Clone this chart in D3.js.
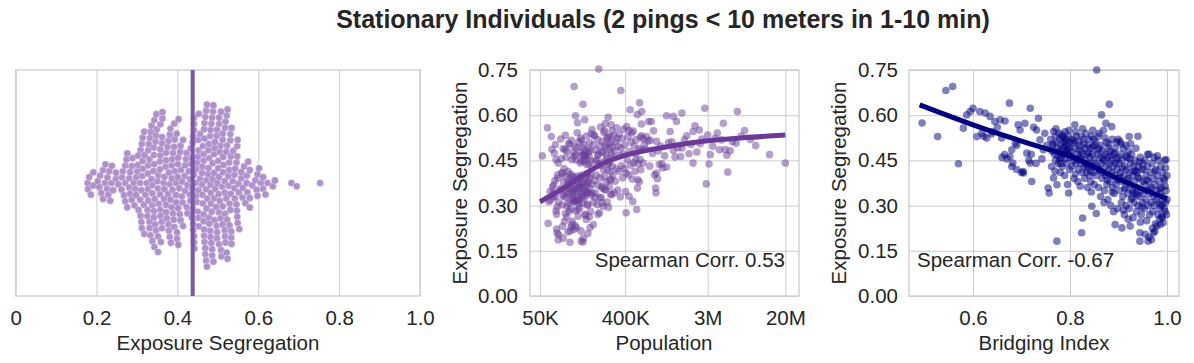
<!DOCTYPE html>
<html>
<head>
<meta charset="utf-8">
<script src="https://cdn.jsdelivr.net/npm/d3@7"></script>
<style>
  body { margin: 0; background: #fff; }
  text { font-family: "Liberation Sans", Arial, Helvetica, sans-serif; fill: #262626; }
</style>
</head>
<body>
<div id="chart"></div>
<script>
// population (thousands) vs exposure segregation, one entry per city
const popSeg = [
  [53,.465],[60,.558],[61,.241],[62,.313],[66,.529],[67,.487],[68,.362],[70,.328],[72,.383],[72,.331],[74,.452],[74,.283],[75,.271],[76,.209],[79,.203],[78,.186],[65,.318],[69,.342],[71,.474],[73,.503],[77,.391],[77,.402],[64,.347],[79,.312],[76,.296],[78,.441],[70,.368],[75,.222],
  [82,.352],[83,.521],[84,.357],[85,.409],[86,.336],[86,.302],[87,.231],[88,.192],[88,.489],[89,.378],[90,.331],[91,.248],[92,.397],[93,.274],[93,.533],[94,.327],[95,.351],[96,.262],[96,.481],[97,.298],[98,.372],[99,.212],[100,.358],[100,.308],[101,.386],[102,.281],[103,.503],[104,.178],[104,.339],[105,.405],[106,.318],[106,.289],[107,.229],[108,.361],[108,.517],[109,.452],[110,.399],[110,.248],[111,.381],[112,.477],[112,.326],[113,.344],[114,.315],[114,.221],[115,.695],[115,.463],[116,.366],[116,.314],[117,.496],[117,.311],[118,.234],[118,.348],[119,.469],[119,.598],[120,.392],[120,.283],[84,.456],[90,.423],[95,.461],[99,.414],[103,.376],[107,.394],[111,.338],[113,.353],[97,.343],[92,.486],[87,.407],[101,.507],[109,.238],[105,.216],
  [121,.451],[122,.226],[122,.319],[123,.493],[124,.357],[124,.542],[125,.398],[126,.287],[126,.321],[127,.265],[127,.372],[128,.381],[129,.328],[129,.512],[130,.346],[131,.363],[131,.308],[132,.292],[133,.478],[133,.389],[134,.441],[135,.372],[135,.524],[136,.216],[137,.182],[137,.448],[138,.338],[138,.517],[139,.401],[140,.333],[140,.309],[141,.492],[142,.359],[142,.362],[143,.636],[143,.179],[144,.192],[145,.446],[145,.377],[146,.503],[147,.332],[147,.471],[148,.324],[149,.453],[150,.386],[150,.271],[151,.483],[152,.268],[152,.349],[153,.465],[154,.396],[155,.254],[155,.343],[156,.531],[157,.368],[158,.406],[158,.374],[159,.301],[160,.345],[161,.207],[161,.304],[162,.488],[163,.379],[164,.439],[165,.341],[166,.462],[167,.263],[168,.509],[169,.358],[170,.227],[171,.482],[172,.281],[173,.403],[174,.449],[175,.334],[176,.538],[177,.425],[178,.552],[179,.371],[180,.342],[128,.317],[134,.357],[139,.466],[146,.466],[151,.465],[157,.436],[163,.476],[169,.393],[125,.575],[149,.585],
  [182,.502],[184,.237],[185,.311],[187,.534],[189,.383],[190,.531],[192,.328],[194,.342],[196,.484],[198,.401],[200,.452],[202,.303],[204,.519],[206,.271],[208,.367],[210,.753],[210,.471],[212,.439],[214,.276],[215,.498],[217,.392],[219,.561],[221,.433],[223,.327],[225,.362],[227,.309],[229,.513],[231,.358],[234,.298],[234,.479],[236,.445],[238,.543],[240,.397],[242,.548],[244,.352],[246,.572],[248,.354],[250,.491],[252,.378],[254,.467],[256,.524],[258,.312],[260,.418],[262,.526],[264,.593],[266,.294],[268,.505],[270,.441],[272,.363],[274,.486],[276,.529],[278,.412],[280,.338],[282,.387],[284,.508],[286,.473],[288,.336],[290,.548],[292,.431],[294,.494],[296,.399],[298,.462],[195,.447],[205,.467],[215,.326],[225,.477],[235,.419],[245,.501],[255,.456],[265,.437],[275,.384],[285,.568],
  [302,.533],[306,.343],[310,.482],[314,.381],[318,.512],[322,.421],[326,.558],[330,.523],[334,.352],[338,.497],[342,.414],[346,.537],[350,.466],[355,.329],[360,.682],[360,.491],[365,.432],[370,.522],[375,.392],[380,.471],[386,.553],[392,.423],[398,.501],[404,.347],[410,.276],[410,.408],[416,.562],[422,.451],[428,.528],[434,.402],[440,.331],[440,.549],[446,.479],[452,.618],[458,.434],[464,.511],[470,.541],[476,.388],[482,.314],[488,.547],[494,.442],[500,.498],[508,.413],[516,.472],[520,.518],[530,.287],[540,.358],[545,.386],[550,.438],[560,.489],[570,.641],[575,.453],[580,.527],[585,.419],[590,.484],[595,.571],[520,.452],[540,.602],[565,.379],[598,.532],
  [600,.612],[620,.441],[640,.503],[660,.487],[680,.528],[700,.514],[710,.579],[730,.431],[740,.517],[760,.579],[780,.473],[800,.548],[820,.402],[840,.358],[850,.342],[860,.513],[860,.408],[880,.389],[900,.481],[920,.436],[950,.498],[980,.439],[1000,.425],[1050,.465],[1100,.598],[1100,.428],[1150,.508],[1200,.546],[1250,.512],[1300,.596],[1300,.483],[1350,.461],[1400,.579],[1450,.492],[620,.522],
  [1550,.463],[1600,.491],[1600,.607],[1700,.518],[1800,.532],[1900,.472],[2000,.503],[2100,.441],[2100,.546],[2200,.565],[2300,.478],[2450,.551],[2600,.521],[2800,.623],[2900,.372],[3000,.534],[3200,.469],[3400,.497],[3600,.523],[3800,.541],[4000,.485],[4200,.518],[4400,.573],[4600,.486],[4800,.467],[4900,.411],[3100,.438],[2500,.505],
  [5500,.512],[6000,.507],[6200,.612],[6800,.531],[7400,.549],[9700,.499],[13600,.469],[20000,.441],[8500,.519],[5200,.482]
];

// bridging index vs exposure segregation
const bridgeSeg = [
  [.495,.574],[.527,.529],[.544,.682],[.558,.695],[.57,.439],[.58,.557],[.587,.601],[.594,.612],[.60,.623],[.608,.529],[.614,.612],[.618,.54],[.625,.607],[.628,.524],[.635,.596],[.638,.538],[.645,.579],[.65,.56],[.656,.585],[.659,.524],[.665,.469],[.666,.581],[.675,.64],[.676,.463],[.68,.485],[.682,.441],[.687,.507],[.693,.568],[.697,.551],[.704,.408],[.707,.573],[.711,.474],[.718,.623],[.718,.441],[.721,.38],[.725,.56],[.731,.551],[.735,.59],[.738,.518],[.745,.485],[.748,.54],[.752,.50],[.755,.358],[.757,.342],[.64,.545],[.622,.53],[.70,.41],[.69,.50],[.73,.44],[.742,.455],[.67,.455],[.68,.43],[.69,.42],[.715,.45],[.72,.47],[.66,.46],[.703,.413],
  [.76,.52],[.762,.43],[.764,.50],[.766,.546],[.766,.392],[.768,.47],[.77,.53],[.77,.45],[.772,.51],[.773,.182],[.773,.369],[.774,.49],[.776,.44],[.777,.54],[.778,.48],[.779,.52],[.78,.41],[.781,.50],[.782,.46],[.783,.535],[.784,.43],[.785,.49],[.786,.529],[.787,.47],[.788,.51],[.789,.40],[.79,.545],[.79,.455],[.791,.48],[.792,.52],[.793,.44],[.794,.50],[.795,.37],[.796,.47],[.797,.342],[.797,.53],[.798,.49],[.799,.42],[.80,.51],[.80,.46],[.765,.505],[.775,.465],[.785,.525],[.795,.485],[.769,.415],[.779,.455],[.789,.495],[.763,.48],[.771,.555],[.781,.44],[.791,.515],[.798,.55],
  [.802,.48],[.804,.43],[.805,.52],[.806,.507],[.807,.45],[.808,.39],[.81,.568],[.81,.49],[.812,.44],[.813,.53],[.814,.452],[.815,.47],[.816,.38],[.817,.51],[.818,.42],[.819,.46],[.82,.50],[.821,.364],[.822,.44],[.823,.53],[.824,.21],[.824,.48],[.825,.41],[.826,.259],[.827,.47],[.828,.52],[.829,.43],[.83,.39],[.831,.49],[.832,.45],[.833,.54],[.834,.41],[.835,.47],[.836,.36],[.837,.50],[.838,.44],[.839,.52],[.84,.40],[.841,.46],[.842,.49],[.843,.38],[.844,.53],[.845,.298],[.845,.43],[.846,.47],[.847,.55],[.848,.41],[.849,.45],[.85,.50],[.85,.37],[.803,.465],[.809,.515],[.811,.405],[.818,.485],[.823,.455],[.829,.505],[.834,.435],[.839,.475],[.843,.415],[.847,.495],[.812,.545],[.826,.555],[.836,.425],[.844,.345],[.849,.52],
  [.852,.44],[.853,.51],[.854,.274],[.854,.40],[.855,.75],[.856,.47],[.857,.43],[.858,.53],[.859,.36],[.86,.49],[.861,.42],[.862,.46],[.863,.33],[.864,.50],[.865,.601],[.865,.44],[.866,.39],[.867,.48],[.868,.41],[.869,.55],[.87,.45],[.871,.35],[.872,.47],[.873,.40],[.874,.573],[.874,.43],[.875,.51],[.876,.37],[.877,.46],[.878,.32],[.879,.49],[.88,.42],[.881,.636],[.881,.44],[.882,.38],[.883,.48],[.884,.30],[.885,.45],[.886,.562],[.886,.41],[.887,.52],[.888,.36],[.889,.43],[.89,.47],[.891,.34],[.892,.40],[.893,.237],[.893,.49],[.894,.44],[.895,.37],[.896,.51],[.897,.42],[.898,.29],[.899,.46],[.90,.39],[.857,.485],[.862,.415],[.867,.455],[.872,.525],[.877,.385],[.882,.465],[.887,.345],[.892,.475],[.897,.385],[.86,.54],[.87,.31],[.88,.505],[.89,.28],[.895,.455],[.899,.52],
  [.901,.44],[.902,.35],[.903,.513],[.904,.41],[.905,.47],[.906,.31],[.907,.226],[.907,.38],[.908,.45],[.909,.33],[.91,.49],[.911,.40],[.912,.27],[.913,.43],[.914,.36],[.915,.50],[.916,.30],[.917,.42],[.918,.46],[.919,.34],[.92,.39],[.921,.48],[.922,.529],[.922,.29],[.923,.41],[.924,.232],[.924,.37],[.925,.44],[.926,.32],[.927,.47],[.928,.35],[.929,.40],[.93,.26],[.931,.43],[.932,.31],[.933,.38],[.934,.45],[.935,.34],[.936,.49],[.937,.28],[.938,.41],[.939,.36],[.94,.53],[.94,.30],[.941,.43],[.942,.33],[.943,.39],[.944,.21],[.944,.182],[.945,.46],[.946,.35],[.947,.27],[.948,.42],[.949,.31],[.95,.38],[.903,.395],[.908,.425],[.913,.355],[.918,.385],[.923,.455],[.928,.325],[.933,.415],[.938,.335],[.943,.445],[.948,.295],[.905,.505],[.915,.465],[.925,.505],[.935,.415],[.945,.245],[.91,.285],[.92,.255],[.93,.345],[.94,.395],[.95,.44],
  [.951,.34],[.952,.42],[.953,.29],[.954,.37],[.955,.45],[.956,.32],[.957,.40],[.958,.25],[.959,.35],[.96,.43],[.961,.182],[.961,.30],[.962,.38],[.963,.47],[.964,.27],[.965,.34],[.966,.41],[.967,.31],[.968,.187],[.968,.36],[.969,.44],[.97,.28],[.971,.39],[.972,.21],[.972,.33],[.973,.46],[.974,.30],[.975,.37],[.976,.24],[.977,.42],[.978,.32],[.979,.232],[.979,.35],[.98,.40],[.981,.27],[.982,.45],[.983,.31],[.984,.38],[.985,.29],[.986,.237],[.986,.34],[.987,.43],[.988,.30],[.989,.36],[.99,.26],[.991,.41],[.992,.243],[.992,.33],[.993,.39],[.994,.29],[.995,.45],[.996,.364],[.996,.281],[.997,.31],[.998,.452],[.998,.35],[.999,.27],[1.0,.40],[1.0,.32],[.955,.205],[.963,.195],[.97,.225],[.975,.215],[.985,.255],[.99,.265],[.958,.385],[.965,.355],[.975,.415],[.985,.355],[.995,.385],[.96,.47],[.98,.465],[.99,.305],[.997,.425]
];

// smoothed fits
const popFit = [[50,.313],[88,.357],[144,.402],[234,.44],[415,.468],[1020,.493],[3000,.515],[7100,.525],[20000,.534]];
const bridgeFit = [[.49,.634],[.6,.568],[.74,.494],[.8,.465],[.9,.388],[1.0,.322]];

const segMean = 0.4378;
const segTicks = [0, .15, .30, .45, .60, .75];
const swarmTicks = [0, .2, .4, .6, .8, 1.0];
const popTicks = [50e3, 400e3, 3e6, 20e6];
const popTickLabels = ['50K', '400K', '3M', '20M'];
const bridgeTicks = [.6, .8, 1.0];
const corrLabels = ['Spearman Corr. 0.53', 'Spearman Corr. -0.67'];

const W = 1194, H = 363;
const yTop = 70, yBot = 296;
const fs = 20.5;

const svg = d3.select('#chart').append('svg')
    .attr('width', W).attr('height', H);

svg.append('text')
    .attr('x', 663).attr('y', 28)
    .attr('text-anchor', 'middle')
    .style('font-size', '25px').style('font-weight', 'bold')
    .text('Stationary Individuals (2 pings < 10 meters in 1-10 min)');

let y = d3.scaleLinear().domain([0, 0.75]).range([yBot, yTop]);

function styleAxis(g) {
    g.select('.domain').remove();
    g.selectAll('.tick line').attr('stroke', '#cccccc').attr('stroke-width', 1);
    g.selectAll('.tick text').style('font-size', fs + 'px')
        .style('font-family', '"Liberation Sans", Arial, sans-serif').attr('fill', '#262626');
}

function frame(x0, x1) {
    svg.append('rect')
        .attr('x', x0).attr('y', yTop).attr('width', x1 - x0).attr('height', yBot - yTop)
        .attr('fill', 'none').attr('stroke', '#cccccc').attr('stroke-width', 1.3);
}

function xLabel(txt, cx) {
    svg.append('text').attr('x', cx).attr('y', 350)
        .attr('text-anchor', 'middle').style('font-size', fs + 'px').text(txt);
}

function yLabel(cx) {
    svg.append('text')
        .attr('transform', `translate(${cx},${(yTop + yBot) / 2}) rotate(-90)`)
        .attr('dy', '0.36em')
        .attr('text-anchor', 'middle').style('font-size', fs + 'px').text('Exposure Segregation');
}

// ---- panel 1: swarm of exposure segregation
let x1 = d3.scaleLinear().domain([0, 1]).range([15.7, 420]);

svg.append('g').attr('transform', `translate(0,${yBot})`)
    .call(d3.axisBottom(x1).tickValues(swarmTicks)
        .tickFormat(d => d === 0 ? '0' : d3.format('.1f')(d))
        .tickSizeInner(-(yBot - yTop)).tickSizeOuter(0).tickPadding(14.7))
    .call(styleAxis);
frame(15.7, 420);

// place each point as close to the centre line as it can go without hitting the ones already placed
function beeswarm(vals, xs, d) {
    const pts = vals.map(v => ({v: v, x: xs(v)})).sort((a, b) => a.x - b.x);
    const placed = [];
    pts.forEach(p => {
        const near = placed.filter(q => Math.abs(q.x - p.x) < d);
        let cands = [0];
        near.forEach(q => {
            const dy = Math.sqrt(d * d - (q.x - p.x) ** 2);
            cands.push(q.y + dy, q.y - dy);
        });
        cands.sort((a, b) => Math.abs(a) - Math.abs(b));
        for (const c of cands) {
            if (near.every(q => (q.x - p.x) ** 2 + (q.y - c) ** 2 >= d * d - 1e-6)) { p.y = c; break; }
        }
        placed.push(p);
    });
    return placed;
}

const swarm = beeswarm(popSeg.map(d => d[1]), x1, 6.2);
const midY = (yTop + yBot) / 2;

svg.append('g').selectAll('circle').data(swarm).join('circle')
    .attr('cx', d => d.x).attr('cy', d => midY + d.y).attr('r', 3.6)
    .attr('fill', '#8d63b6').attr('fill-opacity', 0.7)
    .attr('stroke', '#ffffff').attr('stroke-width', 0.4);

svg.append('line')
    .attr('x1', x1(segMean)).attr('x2', x1(segMean))
    .attr('y1', yTop).attr('y2', yBot)
    .attr('stroke', '#7e56a8').attr('stroke-width', 4);

xLabel('Exposure Segregation', 218);

// ---- panel 2: population
let x2 = d3.scaleLog().domain([39200, 27900000]).range([530, 799]);

svg.append('g').attr('transform', `translate(0,${yBot})`)
    .call(d3.axisBottom(x2).tickValues(popTicks)
        .tickFormat((d, i) => popTickLabels[i])
        .tickSizeInner(-(yBot - yTop)).tickSizeOuter(0).tickPadding(14.7))
    .call(styleAxis);
svg.append('g').attr('transform', `translate(530,0)`)
    .call(d3.axisLeft(y).tickValues(segTicks).tickFormat(d3.format('.2f'))
        .tickSizeInner(-(799 - 530)).tickSizeOuter(0).tickPadding(12))
    .call(styleAxis);
frame(530, 799);

svg.append('g').selectAll('circle').data(popSeg).join('circle')
    .attr('cx', d => x2(d[0] * 1000)).attr('cy', d => y(d[1])).attr('r', 3.8)
    .attr('fill', '#6a3d9a').attr('fill-opacity', 0.5);

svg.append('path').datum(popFit)
    .attr('d', d3.line().x(d => x2(d[0] * 1000)).y(d => y(d[1])).curve(d3.curveMonotoneX))
    .attr('fill', 'none').attr('stroke', '#6b3a99').attr('stroke-width', 5);

svg.append('text').attr('x', 785).attr('y', 267)
    .attr('text-anchor', 'end').style('font-size', fs + 'px').text(corrLabels[0]);

yLabel(460);
xLabel('Population', 664);

// ---- panel 3: bridging index
let x3 = d3.scaleLinear().domain([0.468, 1.0247]).range([909, 1179]);

svg.append('g').attr('transform', `translate(0,${yBot})`)
    .call(d3.axisBottom(x3).tickValues(bridgeTicks).tickFormat(d3.format('.1f'))
        .tickSizeInner(-(yBot - yTop)).tickSizeOuter(0).tickPadding(14.7))
    .call(styleAxis);
svg.append('g').attr('transform', `translate(909,0)`)
    .call(d3.axisLeft(y).tickValues(segTicks).tickFormat(d3.format('.2f'))
        .tickSizeInner(-(1179 - 909)).tickSizeOuter(0).tickPadding(11))
    .call(styleAxis);
frame(909, 1179);

svg.append('g').selectAll('circle').data(bridgeSeg).join('circle')
    .attr('cx', d => x3(d[0])).attr('cy', d => y(d[1])).attr('r', 3.8)
    .attr('fill', '#000080').attr('fill-opacity', 0.5);

svg.append('path').datum(bridgeFit)
    .attr('d', d3.line().x(d => x3(d[0])).y(d => y(d[1])).curve(d3.curveMonotoneX))
    .attr('fill', 'none').attr('stroke', '#000080').attr('stroke-width', 5);

svg.append('text').attr('x', 917).attr('y', 267)
    .attr('text-anchor', 'start').style('font-size', fs + 'px').text(corrLabels[1]);

yLabel(838.5);
xLabel('Bridging Index', 1044);
</script>
</body>
</html>
